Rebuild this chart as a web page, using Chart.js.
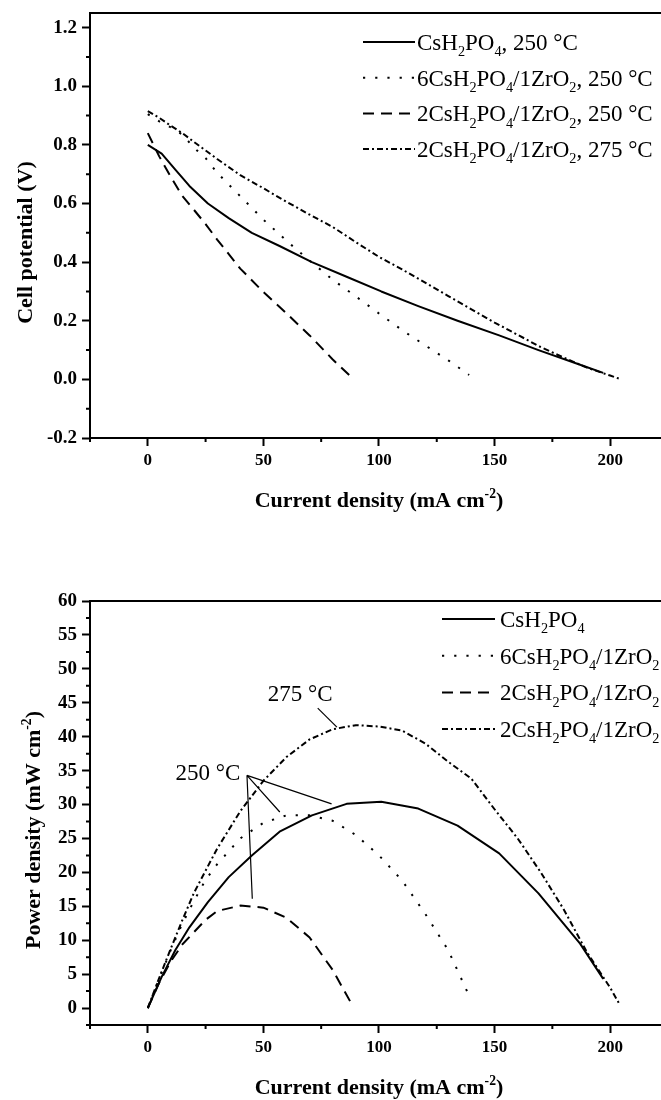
<!DOCTYPE html>
<html>
<head>
<meta charset="utf-8">
<title>Fuel cell polarization and power curves</title>
<script src="https://cdn.jsdelivr.net/npm/chart.js@4.4.1/dist/chart.umd.min.js"></script>
<style>
  html, body { margin: 0; padding: 0; background: #fff; overflow: hidden; }
  #wrap { position: relative; width: 661px; height: 1100px; }
  canvas { position: absolute; left: 0; display: block; }
  #cV { top: 0; }
  #cP { top: 520px; }
</style>
</head>
<body>
<div id="wrap">
  <canvas id="cV" width="661" height="520"></canvas>
  <canvas id="cP" width="661" height="580"></canvas>
</div>
<script>
// ---- measured data -------------------------------------------------------
// current density, mA cm-2
const iCsh  = [0, 6, 12, 18, 26, 35, 45, 57, 71, 86, 101, 117, 134, 152, 169, 187, 197];
const i6Zr  = [0, 5, 10, 15, 20, 25, 30, 40, 50, 60, 70, 80, 90, 100, 110, 120, 130, 139];
const i2Zr  = [0, 5, 10, 15, 20, 25, 30, 40, 50, 60, 70, 80, 88];
const i2Zr275 = [0, 5, 10, 15, 20, 30, 40, 50, 60, 70, 80, 90, 100, 110, 120, 130, 140, 150, 160, 170, 180, 190, 200, 204];

// cell potential, V
const vCsh  = [0.80, 0.77, 0.715, 0.66, 0.60, 0.55, 0.50, 0.455, 0.40, 0.35, 0.30, 0.25, 0.20, 0.15, 0.10, 0.05, 0.022];
const v6Zr  = [0.905, 0.88, 0.86, 0.835, 0.79, 0.755, 0.705, 0.625, 0.545, 0.473, 0.405, 0.34, 0.283, 0.225, 0.168, 0.116, 0.065, 0.015];
const v2Zr  = [0.84, 0.76, 0.69, 0.625, 0.578, 0.53, 0.477, 0.378, 0.298, 0.225, 0.15, 0.068, 0.008];
const v2Zr275 = [0.915, 0.892, 0.865, 0.84, 0.81, 0.752, 0.697, 0.652, 0.606, 0.562, 0.52, 0.468, 0.418, 0.375, 0.33, 0.284, 0.239, 0.194, 0.152, 0.11, 0.074, 0.04, 0.013, 0.002];

// power density, mW cm-2
const pCsh  = [0, 4.6, 8.6, 11.9, 15.6, 19.3, 22.5, 26.0, 28.4, 30.1, 30.4, 29.4, 26.9, 22.8, 16.9, 9.5, 4.3];
const p6Zr  = [0, 4.4, 8.6, 12.5, 15.8, 18.9, 21.2, 25.0, 27.3, 28.4, 28.4, 27.6, 25.5, 22.5, 18.8, 13.9, 8.5, 1.8];
const p2Zr  = [0, 3.8, 6.9, 9.4, 11.2, 13.0, 14.3, 15.1, 14.8, 13.3, 10.4, 5.6, 0.7];
const p2Zr275 = [0, 4.5, 8.8, 13.0, 17.0, 23.5, 29.0, 33.5, 37.0, 39.6, 41.1, 41.7, 41.5, 40.9, 39.0, 36.3, 33.8, 29.3, 25.0, 20.0, 14.5, 8.2, 3.0, 0.6];

// axis ticks
const xTickValues = [0, 50, 100, 150, 200];
const vTickValues = [-0.2, 0.0, 0.2, 0.4, 0.6, 0.8, 1.0, 1.2];
const pTickValues = [0, 5, 10, 15, 20, 25, 30, 35, 40, 45, 50, 55, 60];

// series names ("digit after a letter" is set as a subscript)
const namesV = ['CsH2PO4, 250 °C', '6CsH2PO4/1ZrO2, 250 °C', '2CsH2PO4/1ZrO2, 250 °C', '2CsH2PO4/1ZrO2, 275 °C'];
const namesP = ['CsH2PO4', '6CsH2PO4/1ZrO2', '2CsH2PO4/1ZrO2', '2CsH2PO4/1ZrO2'];

const xTitle = 'Current density (mA cm^{-2})';
const vTitle = 'Cell potential (V)';
const pTitle = 'Power density (mW cm^{-2})';

// ---- styling ---------------------------------------------------------------
const SERIF = "'Liberation Serif', 'Times New Roman', serif";
const dashes = [[], [2.2, 10], [11, 7], [6, 3, 2, 3]];
const currents = [iCsh, i6Zr, i2Zr, i2Zr275];

function buildDatasets(names, values) {
  return names.map((name, k) => ({
    label: name,
    data: currents[k].map((x, j) => ({ x: x, y: values[k][j] })),
    showLine: true,
    pointRadius: 0,
    pointHoverRadius: 0,
    borderColor: '#000',
    backgroundColor: '#000',
    borderWidth: 2,
    borderDash: dashes[k],
    borderCapStyle: 'butt',
    borderJoinStyle: 'round',
    tension: 0,
    fill: false
  }));
}

// split a label into plain / subscript / superscript runs
function parseRich(str) {
  const out = [];
  let i = 0;
  const push = (t, kind) => {
    const last = out[out.length - 1];
    if (last && last.kind === kind) last.t += t; else out.push({ t: t, kind: kind });
  };
  while (i < str.length) {
    if (str[i] === '^' && str[i + 1] === '{') {
      const end = str.indexOf('}', i);
      out.push({ t: str.slice(i + 2, end), kind: 'sup' });
      i = end + 1;
      continue;
    }
    const ch = str[i];
    const prev = i > 0 ? str[i - 1] : '';
    if (/[0-9]/.test(ch) && /[A-Za-z]/.test(prev)) push(ch, 'sub'); else push(ch, 'n');
    i++;
  }
  return out;
}

function fontStr(weight, size) { return weight + ' ' + size + 'px ' + SERIF; }

function drawRich(ctx, str, x, y, size, weight, align) {
  const runs = parseRich(str);
  let total = 0;
  runs.forEach(r => {
    ctx.font = fontStr(weight, r.kind === 'n' ? size : size * 0.62);
    r.w = ctx.measureText(r.t).width;
    total += r.w;
  });
  let cx = align === 'center' ? x - total / 2 : x;
  runs.forEach(r => {
    ctx.font = fontStr(weight, r.kind === 'n' ? size : size * 0.62);
    const dy = r.kind === 'sub' ? size * 0.27 : (r.kind === 'sup' ? -size * 0.4 : 0);
    ctx.fillText(r.t, cx, y + dy);
    cx += r.w;
  });
}

// frame, minor ticks, axis titles, legend and call-outs
const decorPlugin = {
  id: 'decor',
  afterDraw(chart, args, o) {
    const ctx = chart.ctx;
    const a = chart.chartArea;
    const xs = chart.scales.x, ys = chart.scales.y;
    ctx.save();
    ctx.strokeStyle = '#000';
    ctx.fillStyle = '#000';
    ctx.setLineDash([]);

    // top frame line
    ctx.lineWidth = 2;
    ctx.beginPath();
    ctx.moveTo(a.left - 1, a.top);
    ctx.lineTo(a.right + 2, a.top);
    ctx.stroke();

    // minor ticks
    ctx.beginPath();
    for (let k = 0; ; k++) {
      const v = o.xMinor[0] + k * o.xMinor[1];
      if (v > xs.max) break;
      const px = xs.getPixelForValue(v);
      ctx.moveTo(px, a.bottom);
      ctx.lineTo(px, a.bottom + 4);
    }
    for (let k = 0; ; k++) {
      const v = o.yMinor[0] + k * o.yMinor[1];
      if (v > ys.max + 1e-9) break;
      const py = ys.getPixelForValue(v);
      ctx.moveTo(a.left, py);
      ctx.lineTo(a.left - 4, py);
    }
    ctx.stroke();

    // axis titles
    ctx.textBaseline = 'alphabetic';
    drawRich(ctx, xTitle, xs.getPixelForValue(100), a.bottom + 69, 22, 'bold', 'center');
    ctx.save();
    ctx.translate(o.yTitleX, (a.top + a.bottom) / 2 + 17);
    ctx.rotate(-Math.PI / 2);
    drawRich(ctx, o.yTitle, 0, 0, 22, 'bold', 'center');
    ctx.restore();

    // legend
    chart.data.datasets.forEach((ds, k) => {
      const base = o.legend.y + k * o.legend.gap;
      const ly = base - 8;
      ctx.lineWidth = ds.borderWidth;
      ctx.setLineDash(ds.borderDash || []);
      ctx.beginPath();
      ctx.moveTo(o.legend.x, ly);
      ctx.lineTo(o.legend.x + o.legend.len, ly);
      ctx.stroke();
      ctx.setLineDash([]);
      drawRich(ctx, ds.label, o.legend.textX, base, 23, 'normal', 'left');
    });

    // call-outs (data coordinates)
    (o.callouts || []).forEach(c => {
      drawRich(ctx, c.text, xs.getPixelForValue(c.at[0]), ys.getPixelForValue(c.at[1]), 23, 'normal', 'left');
      ctx.lineWidth = 1.2;
      ctx.beginPath();
      c.lines.forEach(seg => {
        ctx.moveTo(xs.getPixelForValue(seg[0]), ys.getPixelForValue(seg[1]));
        ctx.lineTo(xs.getPixelForValue(seg[2]), ys.getPixelForValue(seg[3]));
      });
      ctx.stroke();
    });
    ctx.restore();
  }
};

function xAxis(axisHeight) {
  return {
    type: 'linear', min: -25, max: 222,
    afterBuildTicks: s => { s.ticks = xTickValues.map(v => ({ value: v })); },
    afterFit: s => { s.height = axisHeight; s.paddingLeft = 0; s.paddingRight = 0; },
    ticks: {
      autoSkip: false, maxRotation: 0, padding: 4, color: '#000',
      font: { family: SERIF, size: 17, weight: 'bold' },
      callback: v => String(v)
    },
    grid: { drawOnChartArea: false, drawTicks: true, tickLength: 8, tickWidth: 2, tickColor: '#000' },
    border: { display: true, color: '#000', width: 2 }
  };
}

function yAxis(min, max, values, fmt) {
  return {
    type: 'linear', min: min, max: max,
    afterBuildTicks: s => { s.ticks = values.map(v => ({ value: v })); },
    afterFit: s => { s.width = 90; s.paddingTop = 0; s.paddingBottom = 0; },
    ticks: {
      autoSkip: false, padding: 5, color: '#000',
      font: { family: SERIF, size: 19, weight: 'bold' },
      callback: fmt
    },
    grid: { drawOnChartArea: false, drawTicks: true, tickLength: 8, tickWidth: 2, tickColor: '#000' },
    border: { display: true, color: '#000', width: 2 }
  };
}

function baseOptions(top, xAxisHeight, yScale, decor) {
  return {
    responsive: false,
    animation: false,
    devicePixelRatio: 1,
    layout: { padding: { top: top, left: 0, right: 0, bottom: 0 } },
    scales: { x: xAxis(xAxisHeight), y: yScale },
    plugins: { legend: { display: false }, tooltip: { enabled: false }, decor: decor }
  };
}

// polarization curves
new Chart(document.getElementById('cV'), {
  type: 'scatter',
  data: { datasets: buildDatasets(namesV, [vCsh, v6Zr, v2Zr, v2Zr275]) },
  options: baseOptions(13, 82,
    yAxis(-0.2, 1.25, vTickValues, v => Number(v).toFixed(1)),
    {
      xMinor: [-25, 50], yMinor: [-0.1, 0.2],
      yTitle: vTitle, yTitleX: 31.5,
      legend: { x: 363, len: 52, textX: 417, y: 50, gap: 35.7 }
    }),
  plugins: [decorPlugin]
});

// power density curves
new Chart(document.getElementById('cP'), {
  type: 'scatter',
  data: { datasets: buildDatasets(namesP, [pCsh, p6Zr, p2Zr, p2Zr275]) },
  options: baseOptions(81, 75,
    yAxis(-2.5, 60, pTickValues, v => String(v)),
    {
      xMinor: [-25, 50], yMinor: [-2.5, 5],
      yTitle: pTitle, yTitleX: 40,
      legend: { x: 442, len: 53, textX: 500, y: 107, gap: 36.7 },
      callouts: [
        { text: '275 °C', at: [51.9, 45.2], lines: [[73.5, 44.2, 81.8, 41.4]] },
        { text: '250 °C', at: [12.0, 33.6], lines: [
          [42.9, 34.3, 79.5, 30.1],
          [42.9, 34.3, 57.1, 28.9],
          [42.9, 34.3, 45.2, 16.1]
        ] }
      ]
    }),
  plugins: [decorPlugin]
});
</script>
</body>
</html>
